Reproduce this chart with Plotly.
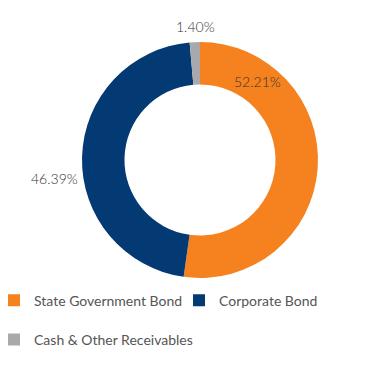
import plotly.graph_objects as go

labels = ["State Government Bond", "Corporate Bond", "Cash & Other Receivables"]
values = [52.21, 46.39, 1.40]
colors = ["#F5821F", "#033A73", "#A7A9AC"]
text_labels = ["52.21%", "46.39%", "1.40%"]

# legend entries: the last one is pushed to a second, more spaced row
legend_text = [labels[0], labels[1], "<br>" + labels[2]]

fig = go.Figure()
fig.add_trace(go.Pie(
    labels=legend_text,
    values=values,
    sort=False,
    direction="clockwise",
    rotation=0,
    hole=0.64,
    marker=dict(colors=colors, line=dict(width=0)),
    textinfo="none",
    hoverinfo="none",
    domain=dict(x=[0.2005, 0.8401], y=[0.0, 0.874]),
))

ann_pos = [(0.6775, 0.726), (0.127, 0.370), (0.508, 0.930)]
for (x, y), t in zip(ann_pos, text_labels):
    fig.add_annotation(x=x, y=y, xref="paper", yref="paper", text=t, showarrow=False,
                       xanchor="center", yanchor="middle",
                       font=dict(family="Lato", size=14, color="#333333", weight=300))

fig.update_layout(
    width=369, height=390,
    margin=dict(l=0, r=0, t=0, b=120, autoexpand=False),
    paper_bgcolor="white",
    showlegend=True,
    legend=dict(orientation="h", x=-0.0379, y=-0.0244, yanchor="top", xanchor="left",
                font=dict(family="Lato", size=14, color="#555"), itemwidth=30,
                entrywidth=140, valign="bottom"),
)
fig.write_html("out.html")
